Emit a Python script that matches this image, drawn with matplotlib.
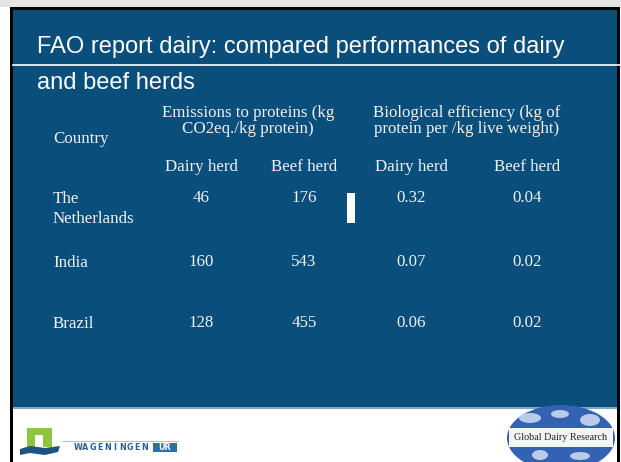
import matplotlib
matplotlib.use("Agg")
import matplotlib.pyplot as plt
from matplotlib.patches import Rectangle, Ellipse, Polygon

# table content
title_lines = ["FAO report dairy: compared performances of dairy", "and beef herds"]
group_headers = ["Emissions to proteins (kg\nCO2eq./kg protein)",
                 "Biological efficiency (kg of\nprotein per /kg live weight)"]
sub_headers = ["Dairy herd", "Beef herd", "Dairy herd", "Beef herd"]
countries = ["The\nNetherlands", "India", "Brazil"]
dairy_emis = ["46", "160", "128"]
beef_emis = ["176", "543", "455"]
dairy_eff = ["0.32", "0.07", "0.06"]
beef_eff = ["0.04", "0.02", "0.02"]

BLUE = "#0a4e7b"
TXT = "#eef2f5"

fig = plt.figure(figsize=(6.21, 4.62), dpi=100)
ax = fig.add_axes([0, 0, 1, 1])
ax.set_xlim(0, 621)
ax.set_ylim(462, 0)
ax.axis("off")

# slide frame and background
ax.add_patch(Rectangle((0, 0), 621, 7, color="#e4e4e4", lw=0))
ax.add_patch(Rectangle((10, 7), 610, 460, color="black", lw=0))
ax.add_patch(Rectangle((13, 10), 604, 460, color="white", lw=0))
ax.add_patch(Rectangle((13, 10), 604, 397, color=BLUE, lw=0))
ax.add_patch(Rectangle((13, 407), 604, 2, color="#7fa7c9", lw=0))
ax.plot([13, 620], [65, 65], color="white", lw=1.2)

# title
serif = "Liberation Serif"
ax.text(37, 47, title_lines[0], color="white", fontsize=17,
        family="Liberation Sans", va="center", ha="left")
ax.text(37, 83, title_lines[1], color="white", fontsize=17,
        family="Liberation Sans", va="center", ha="left")

# table
col_x = [201, 304, 411, 527]
group_x = [248, 467]
for gx, h in zip(group_x, group_headers):
    ax.text(gx, 121, h, color=TXT, fontsize=12.2, family=serif,
            ha="center", va="center", linespacing=1.05)
ax.text(53, 139, "Country", color=TXT, fontsize=12.2, family=serif,
        ha="left", va="center")
for cx, s in zip(col_x, sub_headers):
    ax.text(cx, 167, s, color=TXT, fontsize=12.2, family=serif,
            ha="center", va="center")

row_y = [198, 262, 323]
for i, y in enumerate(row_y):
    ax.text(53, y - 7, countries[i], color=TXT, fontsize=12.2, family=serif,
            ha="left", va="top", linespacing=1.3)
    vals = [dairy_emis[i], beef_emis[i], dairy_eff[i], beef_eff[i]]
    for cx, v in zip(col_x, vals):
        ax.text(cx, y, v, color=TXT, fontsize=12.2, family=serif,
                ha="center", va="center")

# stray cursor mark in the slide
ax.add_patch(Rectangle((347, 193), 8, 30, color="white", lw=0))

# Wageningen logo
ax.add_patch(Rectangle((27, 428), 25, 19, color="#8cc63e", lw=0))
ax.add_patch(Rectangle((35, 435), 8, 12, color="white", lw=0))
ax.add_patch(Polygon([(20, 449), (30, 446), (45, 448), (60, 446), (58, 452),
                      (45, 455), (30, 453), (20, 455)], color="#1d5483", lw=0))
ax.plot([63, 178], [441, 441], color="#b9c1c9", lw=0.8)
for k, ch in enumerate("WAGENINGEN"):
    ax.text(78 + k * 7.4, 448, ch, color="#2b5f8e", fontsize=5.8, weight="bold",
            family="DejaVu Sans", ha="center", va="center")
ax.add_patch(Rectangle((153, 443), 24, 9, color="#2e6ea6", lw=0))
ax.text(165, 447.5, "UR", color="white", fontsize=5.8, weight="bold",
        family="DejaVu Sans", ha="center", va="center")

# Global Dairy Research logo
ax.add_patch(Ellipse((561, 438), 108, 66, color="#3462b3", lw=0))
for ex, ey, w, h in [(530, 418, 22, 10), (560, 414, 18, 8), (590, 420, 20, 12),
                     (540, 455, 16, 10), (580, 456, 20, 8)]:
    ax.add_patch(Ellipse((ex, ey), w, h, color="#b9cbe8", lw=0))
ax.add_patch(Rectangle((509, 428), 104, 19, color="#f4f4f4", lw=0))
ax.text(561, 438, "Global Dairy Research", color="#222222", fontsize=7.3,
        family=serif, ha="center", va="center")

fig.savefig("out.png", dpi=100)
